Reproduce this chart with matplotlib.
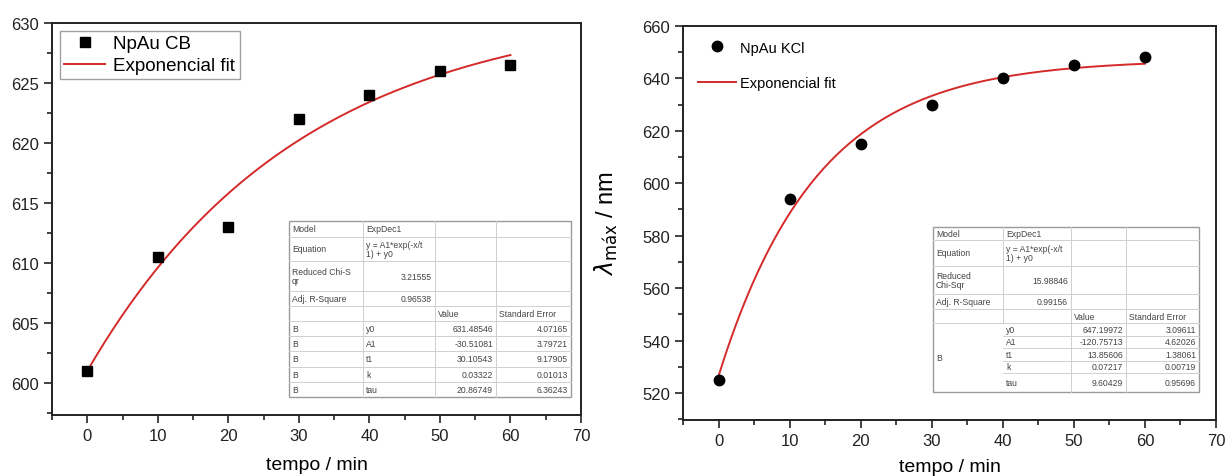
import numpy as np
import matplotlib
matplotlib.use("Agg")
import matplotlib.pyplot as plt
from matplotlib.ticker import MultipleLocator
from matplotlib.lines import Line2D
from matplotlib.patches import Rectangle

plt.rcParams['font.family'] = ['Liberation Sans', 'DejaVu Sans']

# --- data ---
tempo = [0, 10, 20, 30, 40, 50, 60]
lam_cb = [601.0, 610.5, 613.0, 622.0, 624.0, 626.0, 626.5]
lam_kcl = [525.0, 594.0, 615.0, 630.0, 640.0, 645.0, 648.0]

# ExpDec1 fit parameters (y0, A1, t1) from the tables
fit_cb = (631.48546, -30.51081, 30.10543)
fit_kcl = (647.19972, -120.75713, 13.85606)

table_cb = [
    ["Model", "ExpDec1", "", ""],
    ["Equation", "y = A1*exp(-x/t\n1) + y0", "", ""],
    ["Reduced Chi-S\nqr", "3.21555", "", ""],
    ["Adj. R-Square", "0.96538", "", ""],
    ["", "", "Value", "Standard Error"],
    ["B", "y0", "631.48546", "4.07165"],
    ["B", "A1", "-30.51081", "3.79721"],
    ["B", "t1", "30.10543", "9.17905"],
    ["B", "k", "0.03322", "0.01013"],
    ["B", "tau", "20.86749", "6.36243"],
]
table_kcl = [
    ["Model", "ExpDec1", "", ""],
    ["Equation", "y = A1*exp(-x/t\n1) + y0", "", ""],
    ["Reduced\nChi-Sqr", "15.98846", "", ""],
    ["Adj. R-Square", "0.99156", "", ""],
    ["", "", "Value", "Standard Error"],
    ["", "y0", "647.19972", "3.09611"],
    ["", "A1", "-120.75713", "4.62026"],
    ["B", "t1", "13.85606", "1.38061"],
    ["", "k", "0.07217", "0.00719"],
    ["", "tau", "9.60429", "0.95696"],
]

W, H = 1227, 477
fig = plt.figure(figsize=(W / 100, H / 100), dpi=100)


def px_axes(x0, y0, x1, y1):
    return fig.add_axes([x0 / W, 1 - y1 / H, (x1 - x0) / W, (y1 - y0) / H])


def style_axis(ax, ystep, yminor):
    for s in ax.spines.values():
        s.set_linewidth(1.4)
        s.set_color('#222222')
    ax.xaxis.set_major_locator(MultipleLocator(10))
    ax.xaxis.set_minor_locator(MultipleLocator(5))
    ax.yaxis.set_major_locator(MultipleLocator(ystep))
    ax.yaxis.set_minor_locator(MultipleLocator(yminor))
    ax.tick_params(which='major', direction='out', length=6, width=1.2,
                   labelsize=12, colors='#222222', top=False, right=False)
    ax.tick_params(which='minor', direction='out', length=3.5, width=1.2,
                   top=False, right=False, colors='#222222')


def draw_table(cells, cols, rows, merged_b=False):
    tf = lambda x, y: (x / W, 1 - y / H)
    x0, x1 = cols[0], cols[-1]
    y0, y1 = rows[0], rows[-1]
    fig.patches.append(Rectangle(tf(x0, y1), (x1 - x0) / W, (y1 - y0) / H,
                                 transform=fig.transFigure, facecolor='white',
                                 edgecolor='#9a9a9a', lw=1.0, zorder=5))
    for j, cx in enumerate(cols[1:-1], start=1):
        for i in range(len(rows) - 1):
            if merged_b and j == 1 and i >= 5:
                continue
            fig.lines.append(Line2D([cx / W, cx / W],
                                    [1 - rows[i] / H, 1 - rows[i + 1] / H],
                                    transform=fig.transFigure, color='#cfcfcf',
                                    lw=0.7, zorder=6))
    for i, ry in enumerate(rows[1:-1], start=1):
        xs = cols[0]
        if merged_b and i > 5:
            xs = cols[1]
        fig.lines.append(Line2D([xs / W, x1 / W], [1 - ry / H, 1 - ry / H],
                                transform=fig.transFigure, color='#cfcfcf',
                                lw=0.7, zorder=6))
    for i, row in enumerate(cells):
        ytop, ybot = rows[i], rows[i + 1]
        for j, txt in enumerate(row):
            if not txt:
                continue
            numeric = txt.replace('.', '').replace('-', '').isdigit()
            if numeric and j > 0:
                x, ha = cols[j + 1] - 3, 'right'
            else:
                x, ha = cols[j] + 3, 'left'
            y = (ytop + ybot) / 2
            if merged_b and txt == "B":
                y = (rows[5] + rows[10]) / 2
            fig.text(x / W, 1 - y / H, txt, ha=ha, va='center', fontsize=6.2,
                     color='#444444', linespacing=1.0, zorder=7)


red = '#d42a2a'
xs_fit = np.linspace(0, 60, 200)

# ---------- left panel ----------
ax1 = px_axes(52, 24, 581, 416)
y0, a1, t1 = fit_cb
ax1.plot(tempo, lam_cb, 's', color='black', markersize=6.5, label='NpAu CB',
         zorder=3)
ax1.plot(xs_fit, y0 + a1 * np.exp(-xs_fit / t1), color=red, lw=1.4,
         label='Exponencial fit', zorder=2)
ax1.set_xlim(-5, 70)
ax1.set_ylim(597.3, 630)
style_axis(ax1, 5, 2.5)
ax1.set_xlabel('tempo / min', fontsize=14, labelpad=9)
leg1 = ax1.legend(loc='upper left', bbox_to_anchor=(0.0, 1.0), fontsize=13.5,
                  frameon=True, fancybox=False, edgecolor='#888888',
                  borderpad=0.25, handlelength=2.2, labelspacing=0.25,
                  handletextpad=0.4, borderaxespad=0.4)
leg1.get_frame().set_linewidth(1.0)

draw_table(table_cb, [289, 363, 435, 496, 571],
           [222, 238, 262, 292, 307, 322, 337, 352, 368, 383, 398])

# ---------- right panel ----------
ax2 = px_axes(683, 27, 1216, 421)
y0, a1, t1 = fit_kcl
ax2.plot(tempo, lam_kcl, 'o', color='black', markersize=7.5, label='NpAu KCl',
         zorder=3)
ax2.plot(xs_fit, y0 + a1 * np.exp(-xs_fit / t1), color=red, lw=1.4,
         label='Exponencial fit', zorder=2)
ax2.set_xlim(-5, 70)
ax2.set_ylim(509.7, 660)
style_axis(ax2, 20, 10)
ax2.set_xlabel('tempo / min', fontsize=14, labelpad=7)
ax2.set_ylabel(r'$\lambda_{\mathrm{máx}}$ / nm', fontsize=17, labelpad=16)
ax2.legend(loc='upper left', bbox_to_anchor=(0.0, 1.0), fontsize=10.5,
           frameon=False, handlelength=2.6, labelspacing=1.45,
           handletextpad=0.3, borderaxespad=0.6)

draw_table(table_kcl, [933, 1003, 1071, 1126, 1199],
           [228, 241, 267, 295, 310, 324, 337, 349, 362, 374, 393], merged_b=True)

fig.savefig('out.png', dpi=100)
